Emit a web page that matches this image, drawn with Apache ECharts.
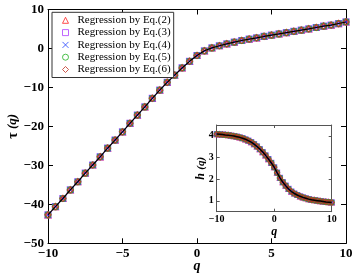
<!DOCTYPE html>
<html><head><meta charset="utf-8">
<script src="https://cdn.jsdelivr.net/npm/echarts@6/dist/echarts.min.js"></script>
<style>html,body{margin:0;padding:0;background:#fff}#c{width:354px;height:276px}</style>
</head><body><div id="c"></div>
<script>
const q = [-10,-9.5,-9,-8.5,-8,-7.5,-7,-6.5,-6,-5.5,-5,-4.5,-4,-3.5,-3,-2.5,-2,-1.5,-1,-0.5,0,0.5,1,1.5,2,2.5,3,3.5,4,4.5,5,5.5,6,6.5,7,7.5,8,8.5,9,9.5,10];
const tau = [-42.7,-40.6,-38.5,-36.3,-34.2,-32.0,-29.9,-27.8,-25.6,-23.5,-21.4,-19.2,-17.1,-15.0,-12.8,-10.7,-8.7,-6.85,-5.0,-3.3,-1.8,-0.6,0.15,0.7,1.18,1.62,2.05,2.38,2.72,3.08,3.41,3.74,4.08,4.38,4.7,5.03,5.38,5.72,6.0,6.4,6.8];
const h = [4.08,4.07,4.06,4.04,4.03,4.01,3.99,3.96,3.93,3.89,3.84,3.78,3.71,3.62,3.51,3.39,3.25,3.10,2.93,2.75,2.55,2.30,2.06,1.86,1.70,1.55,1.43,1.34,1.27,1.21,1.16,1.12,1.08,1.05,1.03,1.01,0.99,0.97,0.95,0.94,0.93];
const seriesNames = ['Regression by Eq.(2)','Regression by Eq.(3)','Regression by Eq.(4)','Regression by Eq.(5)','Regression by Eq.(6)'];
const mainXTicks = [-10,-5,0,5,10];
const mainYTicks = [-50,-40,-30,-20,-10,0,10];
const insetXTicks = [-10,0,10];
const insetYTicks = [1,2,3,4];

const markers = [
  {symbol:'path://M5,0L10,10L0,10Z', color:'#ff2020'},
  {symbol:'path://M0,0L10,0L10,10L0,10Z', color:'#b040ff'},
  {symbol:'path://M0,0L10,10M10,0L0,10', color:'#2040ff'},
  {symbol:'path://M0,5A5,5 0 1 1 10,5A5,5 0 1 1 0,5Z', color:'#20b020'},
  {symbol:'path://M5,0L10,5L5,10L0,5Z', color:'#c03020'}
];
const pairs = (ys) => q.map((v,i)=>[v, ys[i]]);
const fmt = v => (v<0 ? '\u2212'+Math.abs(v) : ''+v);
const serif = 'Liberation Serif';

function scatter(idx, xi, ys, size, withName) {
  const m = markers[idx];
  return {
    type:'scatter', name: withName ? seriesNames[idx] : undefined,
    xAxisIndex: xi, yAxisIndex: xi, data: pairs(ys),
    symbol: m.symbol, symbolSize: size, z: 3+idx,
    itemStyle: {color: 'transparent', borderColor: m.color, borderWidth: 1.2},
    emphasis:{disabled:true}, silent:true
  };
}
function valAxis(gi, pos, min, max, ticks, show, fs, color) {
  return {
    type:'value', gridIndex: gi, position: pos, min, max,
    interval: ticks[1]-ticks[0], nameMoveOverlap:false,
    axisLine:{show:true, onZero:false, lineStyle:{color, width:1}},
    axisTick:{show:true, inside:true, length: gi===0?5:3, lineStyle:{color}},
    axisLabel:{show, formatter: fmt, fontFamily: serif, fontWeight:'bold', fontSize: fs, color:'#000', margin: gi===0?4:3},
    splitLine:{show:false}
  };
}

const chart = echarts.init(document.getElementById('c'));
const series = [];
for (let i=0;i<5;i++) series.push(scatter(i, 0, tau, 6, true));
series.push({type:'line', xAxisIndex:0, yAxisIndex:0, data: pairs(tau), symbol:'none', z:10, lineStyle:{color:'#000', width:1.2}, silent:true});
for (let i=0;i<5;i++) series.push(scatter(i, 2, h, 5, false));
series.push({type:'line', xAxisIndex:2, yAxisIndex:2, data: pairs(h), symbol:'none', z:10, lineStyle:{color:'#000', width:1.5}, silent:true});

const xa0 = valAxis(0,'bottom',-10,10,mainXTicks,true,13,'#000');
xa0.name = 'q'; xa0.nameLocation='middle'; xa0.nameGap=16;
xa0.nameTextStyle = {fontFamily: serif, fontStyle:'italic', fontWeight:'bold', fontSize:14, color:'#000'};
const ya0 = valAxis(0,'left',-50,10,mainYTicks,true,13,'#000');
ya0.name = '{t|\u03c4} {q|(q)}'; ya0.nameLocation='middle'; ya0.nameGap=28; ya0.nameRotate=90;
ya0.nameTextStyle = {rich:{t:{fontFamily: serif, fontWeight:'bold', fontSize:14, color:'#000'}, q:{fontFamily: serif, fontStyle:'italic', fontWeight:'bold', fontSize:13, color:'#000'}}};
const xa1 = valAxis(0,'top',-10,10,mainXTicks,false,13,'#000');
const ya1 = valAxis(0,'right',-50,10,mainYTicks,false,13,'#000');
const ic = '#555';
const xa2 = valAxis(1,'bottom',-10,10,insetXTicks,true,10,ic);
xa2.name='q'; xa2.nameLocation='middle'; xa2.nameGap=14;
xa2.nameTextStyle = {fontFamily: serif, fontStyle:'italic', fontWeight:'bold', fontSize:12, color:'#000'};
const ya2 = valAxis(1,'left',0.5,4.5,insetYTicks,true,10,ic);
ya2.interval = 1; ya2.min = 0.5;
ya2.axisLabel.customValues = insetYTicks; ya2.axisTick.customValues = insetYTicks;
ya2.name = '{h|h} {q|(q)}'; ya2.nameLocation='middle'; ya2.nameGap=10; ya2.nameRotate=90;
ya2.nameTextStyle = {rich:{h:{fontFamily: serif, fontStyle:'italic', fontWeight:'bold', fontSize:12, color:'#000'}, q:{fontFamily: serif, fontStyle:'italic', fontWeight:'bold', fontSize:11, color:'#000'}}};
const xa3 = valAxis(1,'top',-10,10,insetXTicks,false,10,ic);
const ya3 = valAxis(1,'right',0.5,4.5,insetYTicks,false,10,ic);
ya3.axisTick.customValues = insetYTicks;

chart.setOption({
  animation:false,
  grid:[
    {left:48, right:8, top:9.5, bottom:32.7, outerBoundsMode:'none', containLabel:false},
    {left:216.7, right:22.3, top:125, bottom:64.3, show:true, backgroundColor:'#fff', borderWidth:0, z:20, outerBoundsMode:'none', containLabel:false}
  ],
  xAxis:[xa0, xa1, xa2, xa3].map((a,i)=>Object.assign(a, i>=2?{z:25}:{})),
  yAxis:[ya0, ya1, ya2, ya3].map((a,i)=>Object.assign(a, i>=2?{z:25}:{})),
  legend:{
    data: seriesNames.map((n,i)=>({name:n, icon: markers[i].symbol,
      itemStyle:{color:'transparent', borderColor: markers[i].color, borderWidth:1}})),
    orient:'vertical', left:52, top:12.3,
    padding:[2,3,2,10], itemWidth:6, itemHeight:6, itemGap:0.3,
    backgroundColor:'#fff', borderColor:'#333', borderWidth:1, borderRadius:0,
    textStyle:{fontFamily: serif, fontSize:11, color:'#000', lineHeight:12, padding:[0,0,0,4]},
    selectedMode:false, z:30
  },
  series: series.map((s,i)=> i>=6 ? Object.assign(s,{z:30+(s.z||0)}) : s)
});
</script></body></html>
